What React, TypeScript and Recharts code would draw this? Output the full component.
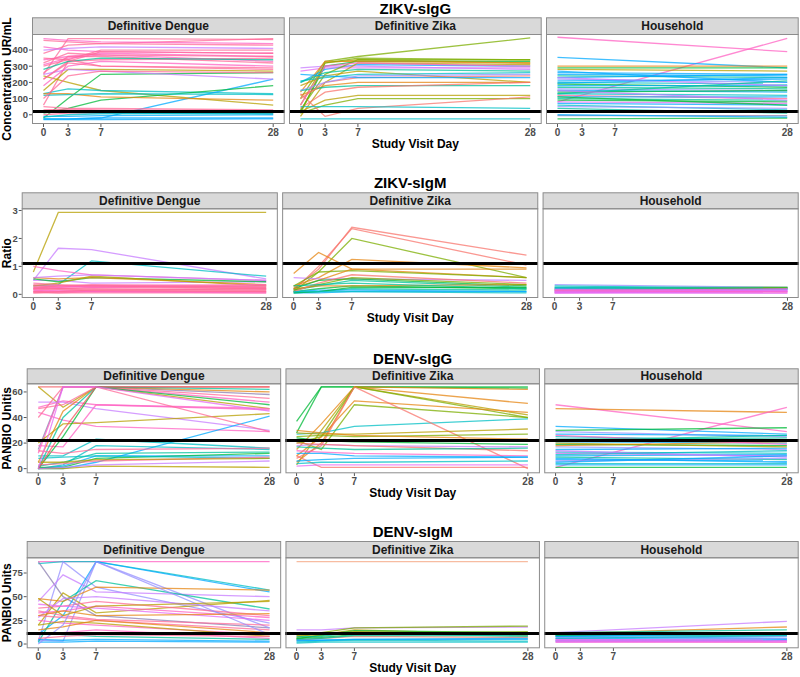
import React from 'react';
import { LineChart, Line, XAxis, YAxis, ReferenceLine } from 'recharts';

const FONT = '"Liberation Sans", Arial, sans-serif';
const DAYS = [0, 3, 7, 28];
const HOUSE_DAYS = [0, 28];
const DAY_TICKS = [0, 3, 7, 28];
const FACETS = ['Definitive Dengue', 'Definitive Zika', 'Household'];

// ---------- ZIKV-sIgG (Concentration UR/mL) ----------
const zikvIgG_dengue: number[][] = [
  [250, 470, 470, 465], [460, 450, 440, 430], [420, 400, 390, 380], [380, 430, 440, 470],
  [340, 360, 380, 360], [220, 330, 390, 380], [300, 340, 400, 400], [310, 350, 370, 330],
  [400, 410, 420, 410], [260, 360, 360, 320], [60, 330, 340, 350], [280, 330, 350, 340],
  [150, 280, 280, 270], [240, 200, 150, 60], [130, 160, 150, 130], [-20, 100, 250, 260],
  [-25, -25, -20, 220], [10, 40, 90, 180], [130, 130, 110, 90], [120, 125, 130, 125],
  [30, 35, 30, 25], [-10, -10, -5, 0], [-25, -25, -20, -20], [0, 10, 10, 10],
  [50, 40, 40, 30], [-30, -30, -30, -25], [20, 15, 10, 5], [350, 340, 300, 290],
  [470, 460, 450, 440], [250, 280, 270, 220], [180, 300, 330, 300], [320, 380, 370, 360],
  [100, 240, 270, 260], [-15, 0, 5, 10], [220, 320, 300, 280],
];
const zikvIgG_zika: number[][] = [
  [100, 330, 360, 475], [20, 300, 330, 330], [60, 320, 340, 320], [200, 280, 310, 300],
  [270, 290, 290, 290], [290, 300, 300, 280], [140, 330, 330, 320], [-10, 200, 320, 310],
  [30, 250, 340, 340], [180, 240, 270, 200], [210, 230, 250, 260], [120, 180, 200, 200],
  [150, 170, 180, 180], [40, 140, 170, 200], [20, 90, 120, 120], [10, 60, 100, 100],
  [130, -10, 40, 110], [50, 50, 50, 40], [-25, -25, -25, -25], [60, 300, 320, 300],
  [200, 260, 280, 270], [10, 320, 350, 340], [100, 200, 230, 240], [250, 240, 230, 230],
  [150, 200, 240, 250],
];
const zikvIgG_house: number[][] = [
  [479, 390], [80, 472], [355, 290], [300, 300], [290, 290], [280, 270], [260, 250], [250, 240],
  [240, 230], [230, 250], [220, 200], [210, 220], [200, 190], [190, 170], [180, 180], [170, 160],
  [160, 150], [150, 140], [140, 150], [130, 120], [120, 100], [110, 110], [100, 90], [90, 80],
  [80, 70], [70, 60], [60, 30], [50, 40], [40, 10], [-5, -5], [-25, -20], [0, -15],
  [270, 200], [230, 180], [130, 210], [195, 230], [110, 60], [150, 90],
];

// ---------- ZIKV-sIgM (Ratio) ----------
const zikvIgM_dengue: number[][] = [
  [0.8, 2.93, 2.93, 2.93], [0.5, 1.65, 1.6, 0.55], [0.3, 0.35, 1.2, 0.65], [1.0, 0.85, 0.7, 0.5],
  [0.5, 0.5, 0.4, 0.45], [0.55, 0.45, 0.6, 0.45], [0.6, 0.55, 0.6, 0.35], [0.3, 0.4, 0.65, 0.3],
  [0.35, 0.3, 0.3, 0.25], [0.2, 0.2, 0.25, 0.2], [0.1, 0.15, 0.1, 0.1], [0.05, 0.05, 0.05, 0.05],
  [0.15, 0.2, 0.2, 0.15], [0.25, 0.3, 0.25, 0.3], [0.1, 0.1, 0.15, 0.2], [0.3, 0.25, 0.3, 0.2],
  [0.2, 0.25, 0.3, 0.35], [0.1, 0.05, 0.1, 0.1], [0.4, 0.35, 0.3, 0.25], [0.15, 0.1, 0.1, 0.05],
  [0.05, 0.1, 0.15, 0.1], [0.25, 0.2, 0.15, 0.15], [0.6, 0.65, 0.7, 0.5], [0.2, 0.3, 0.35, 0.3],
];
const zikvIgM_zika: number[][] = [
  [0.2, 0.9, 2.4, 1.4], [0.15, 1.0, 2.35, 1.05], [0.1, 0.8, 2.0, 0.6], [0.75, 1.5, 0.9, 0.6],
  [0.3, 0.6, 1.25, 0.95], [0.6, 0.55, 0.55, 0.5], [0.3, 0.8, 0.85, 0.6], [0.25, 0.5, 0.9, 0.9],
  [0.2, 0.5, 0.55, 0.3], [0.15, 0.3, 0.5, 0.25], [0.1, 0.2, 0.3, 0.2], [0.05, 0.1, 0.2, 0.15],
  [0.1, 0.15, 0.15, 0.1], [0.05, 0.05, 0.1, 0.1], [0.2, 0.3, 0.3, 0.35], [0.15, 0.35, 0.6, 0.35],
  [0.1, 0.4, 0.7, 0.4], [0.3, 0.35, 0.4, 0.2], [0.05, 0.1, 0.25, 0.25], [0.1, 0.1, 0.1, 0.05],
];
const zikvIgM_house: number[][] = [
  [0.35, 0.25], [0.3, 0.2], [0.25, 0.25], [0.2, 0.25], [0.2, 0.18], [0.25, 0.22], [0.15, 0.22],
  [0.12, 0.2], [0.1, 0.15], [0.15, 0.15], [0.1, 0.1], [0.05, 0.1], [0.08, 0.05], [0.04, 0.04],
  [0.18, 0.12], [0.06, 0.14], [0.13, 0.08],
];

// ---------- DENV-sIgG (PANBIO Units) ----------
const denvIgG_dengue: number[][] = [
  [64, 64, 64, 64], [15, 64, 64, 58], [12, 64, 64, 52], [64, 48, 64, 47], [48, 53, 50, 46],
  [52, 52, 47, 30], [44, 38, 33, 29], [20, 35, 36, 43], [0, 0, 5, 41], [10, 10, 23, 16],
  [0, 3, 18, 15], [18, 17, 50, 47], [40, 64, 64, 55], [5, 45, 64, 60], [0, 25, 64, 50],
  [0, 40, 64, 62], [2, 5, 12, 13], [0, 2, 10, 10], [1, 1, 8, 12], [0, 0, 2, 1],
  [8, 9, 10, 8], [3, 4, 6, 9], [0, 1, 3, 6], [47, 50, 64, 29], [14, 12, 15, 16],
  [0, 30, 64, 64], [5, 5, 7, 8], [0, 64, 64, 45],
];
const denvIgG_zika: number[][] = [
  [37, 64, 64, 64], [28, 64, 64, 63], [5, 20, 64, 62], [15, 35, 64, 51], [3, 30, 64, 42],
  [20, 25, 64, 40], [10, 25, 53, 44], [22, 15, 50, 40], [27, 28, 33, 39], [8, 18, 64, 0],
  [10, 1, 1, 1], [28, 27, 27, 31], [25, 26, 25, 27], [30, 28, 26, 23], [18, 19, 18, 17],
  [20, 19, 18, 14], [14, 13, 12, 10], [12, 12, 10, 9], [6, 7, 8, 9], [4, 5, 5, 6],
  [2, 3, 3, 3], [17, 16, 15, 16], [24, 22, 21, 19],
];
const denvIgG_house: number[][] = [
  [50, 29], [47, 44], [1, 48], [33, 27], [30, 32], [29, 25], [27, 26], [25, 22], [23, 24], [21, 20],
  [19, 18], [17, 15], [15, 16], [13, 12], [12, 10], [10, 11], [9, 7], [7, 6], [6, 8], [4, 4],
  [3, 3], [1, 1], [18, 21], [26, 19], [14, 9], [11, 14], [8, 5], [22, 26], [5, 10], [20, 17],
];

// ---------- DENV-sIgM (PANBIO Units) ----------
const denvIgM_dengue: number[][] = [
  [87, 87, 87, 87], [85, 87, 87, 57], [3, 87, 60, 22], [87, 50, 30, 17], [4, 3, 87, 17],
  [10, 30, 87, 55], [45, 73, 55, 50], [2, 45, 67, 37], [20, 54, 33, 46], [48, 45, 60, 57],
  [38, 40, 45, 30], [33, 35, 40, 28], [30, 28, 25, 15], [25, 22, 20, 10], [20, 24, 22, 8],
  [15, 18, 25, 12], [35, 30, 26, 20], [10, 12, 15, 6], [5, 4, 5, 3], [2, 2, 3, 2],
  [28, 48, 50, 35], [42, 40, 38, 25], [12, 10, 8, 5], [0, 20, 87, 10], [48, 30, 40, 45],
  [6, 8, 10, 8], [30, 35, 30, 32],
];
const denvIgM_zika: number[][] = [
  [87, 87, 87, 87], [15, 15, 17, 18], [7, 12, 17, 19], [5, 10, 15, 10], [6, 9, 14, 12],
  [8, 8, 12, 8], [4, 6, 8, 7], [3, 4, 5, 5], [2, 3, 4, 3], [6, 7, 10, 11],
  [5, 6, 9, 9], [1, 2, 2, 2], [9, 10, 13, 10], [4, 4, 5, 6], [10, 11, 12, 13],
];
const denvIgM_house: number[][] = [
  [12, 24], [11, 18], [12, 15], [11, 12], [10, 10], [9, 9], [8, 6], [7, 8], [6, 5],
  [6, 9], [9, 12], [8, 11], [4, 6], [3, 4], [5, 4], [4, 3], [3, 2], [2, 2], [2, 3],
];

// ---------- styles (colours per subject line) ----------
const PAL: Record<string, string> = {
  pk: '#FF6A98', hp: '#FF61C3', mg: '#E76BF3', lv: '#C77CFF', pu: '#9590FF', bl: '#00A9FF',
  cy: '#00BFC4', tl: '#00C19A', gr: '#00BA38', lm: '#7CAE00', ol: '#B79F00', or: '#E68613',
  sa: '#F8766D', rd: '#F2545B', gy: '#8B7FB0', po: '#F4A582',
};
const col = (s: string) => s.split(' ');
const COLORS = [
  [
    col('pk pk hp pk hp pk pk hp lv pk pk tl ol ol cy gr bl gr or cy pk bl bl pk pk bl cy pk hp lv hp pk pk cy pk'),
    col('lm gr ol bl mg lv or ol lm ol cy or tl sa ol lm sa cy cy hp tl lm sa bl pu'),
    col('hp hp bl or gr ol bl bl tl bl pu bl cy gr bl tl pu bl gr cy pk bl tl gr mg bl cy pu tl gy gr bl bl lv tl bl gr lv'),
  ],
  [
    col('ol lv cy hp lv gr or ol pk pk hp pk pk hp pk pk hp pk pk hp pk pk lv pk'),
    col('sa sa lm or or lv lm or gr tl gr tl bl bl or lm sa tl gr cy'),
    col('pu cy tl lm bl cy gr hp pu mg mg mg mg mg mg mg hp'),
  ],
  [
    col('rd gy hp ol hp lv hp ol bl cy cy hp pk or gr tl tl bl gr ol cy pk lv pk pk rd ol mg'),
    col('gr gr or or ol lm or lm cy sa sa ol lm or lv sa hp bl bl cy mg tl gr'),
    col('hp or hp bl gr pu bl cy tl bl gr pu bl cy mg bl tl bl pu cy bl gr or hp lv cy bl tl bl ol'),
  ],
  [
    col('hp cy pu gy pu bl lv tl ol or pk hp pk hp ol or pk hp bl bl lv mg tl pu ol pk or'),
    col('po lv lm ol gr tl sa bl cy gr tl cy ol bl lm'),
    col('lv or tl gr bl tl bl pu bl cy gr bl pu bl mg mg mg hp mg'),
  ],
];

// ---------- layout ----------
const RIGHT = 798.7;
const GAP = 4.3;
const TOPPAD = 8;
type RowCfg = {
  title: string; yLabel: string; left: number; titleY: number; stripTop: number;
  panelTop: number; panelBottom: number; domain: [number, number]; ticks: number[]; ref: number;
  data: number[][][];
};
const ROWS: RowCfg[] = [
  { title: 'ZIKV-sIgG', yLabel: 'Concentration UR/mL', left: 32, titleY: 8, stripTop: 17.3, panelTop: 34, panelBottom: 124,
    domain: [-57, 499], ticks: [0, 100, 200, 300, 400], ref: 20, data: [zikvIgG_dengue, zikvIgG_zika, zikvIgG_house] },
  { title: 'ZIKV-sIgM', yLabel: 'Ratio', left: 21.7, titleY: 182.5, stripTop: 192.3, panelTop: 208.3, panelBottom: 298,
    domain: [-0.12, 3.09], ticks: [0, 1, 2, 3], ref: 1.1, data: [zikvIgM_dengue, zikvIgM_zika, zikvIgM_house] },
  { title: 'DENV-sIgG', yLabel: 'PANBIO Unitis', left: 26.7, titleY: 358.8, stripTop: 368.3, panelTop: 383.3, panelBottom: 473.3,
    domain: [-3.4, 67], ticks: [0, 20, 40, 60], ref: 22, data: [denvIgG_dengue, denvIgG_zika, denvIgG_house] },
  { title: 'DENV-sIgM', yLabel: 'PANBIO Units', left: 26.7, titleY: 531.5, stripTop: 541, panelTop: 557.3, panelBottom: 648.3,
    domain: [-4.2, 91.9], ticks: [0, 25, 50, 75], ref: 11, data: [denvIgM_dengue, denvIgM_zika, denvIgM_house] },
];

const xTickStyle = { fontSize: 10, fontWeight: 700, fill: '#4D4D4D', fontFamily: FONT };
const yTickStyle = { fontSize: 9.5, fontWeight: 700, fill: '#4D4D4D', fontFamily: FONT };
const BORDER = '#8C8C8C';

function panelX(row: RowCfg, i: number) {
  const w = (RIGHT - row.left - 2 * GAP) / 3;
  return { x: row.left + i * (w + GAP), w };
}

function Panel({ row, ri, pi }: { row: RowCfg; ri: number; pi: number }) {
  const values = row.data[pi];
  const days = pi === 2 ? HOUSE_DAYS : DAYS;
  const colors = COLORS[ri][pi];
  const { x, w } = panelX(row, pi);
  const h = row.panelBottom - row.panelTop;
  const yw = pi === 0 ? row.left : 0;
  const data = days.map((d, k) => {
    const r: Record<string, number> = { day: d };
    values.forEach((v, j) => { r['s' + j] = v[k]; });
    return r;
  });
  return (
    <div style={{ position: 'absolute', left: x - yw, top: row.panelTop - TOPPAD }}>
      <LineChart width={w + yw} height={h + 22 + TOPPAD} data={data} margin={{ top: TOPPAD, right: 0, bottom: 0, left: 0 }}>
        <XAxis dataKey="day" type="number" domain={[-1.4, 29.4]} ticks={DAY_TICKS} interval={0}
          allowDataOverflow height={22} tickSize={3} tickMargin={2} axisLine={false}
          tickLine={{ stroke: '#555' }} tick={xTickStyle} />
        <YAxis type="number" domain={row.domain} ticks={row.ticks} interval={0} allowDataOverflow
          width={yw} hide={pi !== 0} tickSize={3} tickMargin={1} axisLine={false}
          tickLine={{ stroke: '#555' }} tick={yTickStyle} />
        {values.map((_, j) => (
          <Line key={j} dataKey={'s' + j} stroke={PAL[colors[j % colors.length]]} strokeWidth={1.3}
            strokeOpacity={0.75} dot={false} activeDot={false} isAnimationActive={false} connectNulls />
        ))}
        <ReferenceLine y={row.ref} stroke="#000" strokeWidth={3} />
      </LineChart>
    </div>
  );
}

function Overlay() {
  return (
    <svg width={800} height={677} style={{ position: 'absolute', left: 0, top: 0, pointerEvents: 'none' }}>
      {ROWS.map((row, ri) => {
        const mid = panelX(row, 1);
        const ph = row.panelBottom - row.panelTop;
        const cy = (row.panelTop + row.panelBottom) / 2;
        return (
          <g key={ri}>
            <text x={(row.left + RIGHT) / 2} y={row.titleY} textAnchor="middle" dominantBaseline="central"
              fontFamily={FONT} fontWeight={700} fontSize={15} fill="#000">{row.title}</text>
            <text x={7} y={cy} textAnchor="middle" dominantBaseline="central"
              fontFamily={FONT} fontWeight={700} fontSize={12} fill="#000"
              transform={`rotate(-90 7 ${cy})`}>{row.yLabel}</text>
            <text x={mid.x + mid.w / 2} y={row.panelBottom + 19.5} textAnchor="middle" dominantBaseline="central"
              fontFamily={FONT} fontWeight={700} fontSize={12} fill="#000">Study Visit Day</text>
            {FACETS.map((f, pi) => {
              const { x, w } = panelX(row, pi);
              return (
                <g key={pi}>
                  <rect x={x + 0.5} y={row.stripTop + 0.5} width={w - 1} height={row.panelTop - row.stripTop}
                    fill="#D9D9D9" stroke={BORDER} strokeWidth={1} />
                  <text x={x + w / 2} y={(row.stripTop + row.panelTop) / 2 + 0.5} textAnchor="middle"
                    dominantBaseline="central" fontFamily={FONT} fontWeight={700} fontSize={12} fill="#1A1A1A">{f}</text>
                  <rect x={x + 0.5} y={row.panelTop + 0.5} width={w - 1} height={ph - 1}
                    fill="none" stroke={BORDER} strokeWidth={1} />
                </g>
              );
            })}
          </g>
        );
      })}
    </svg>
  );
}

export default function App() {
  return (
    <div style={{ position: 'absolute', left: 0, top: 0, width: 800, height: 677, background: '#fff', overflow: 'hidden' }}>
      {ROWS.map((row, ri) => [0, 1, 2].map((pi) => <Panel key={ri + '-' + pi} row={row} ri={ri} pi={pi} />))}
      <Overlay />
    </div>
  );
}
